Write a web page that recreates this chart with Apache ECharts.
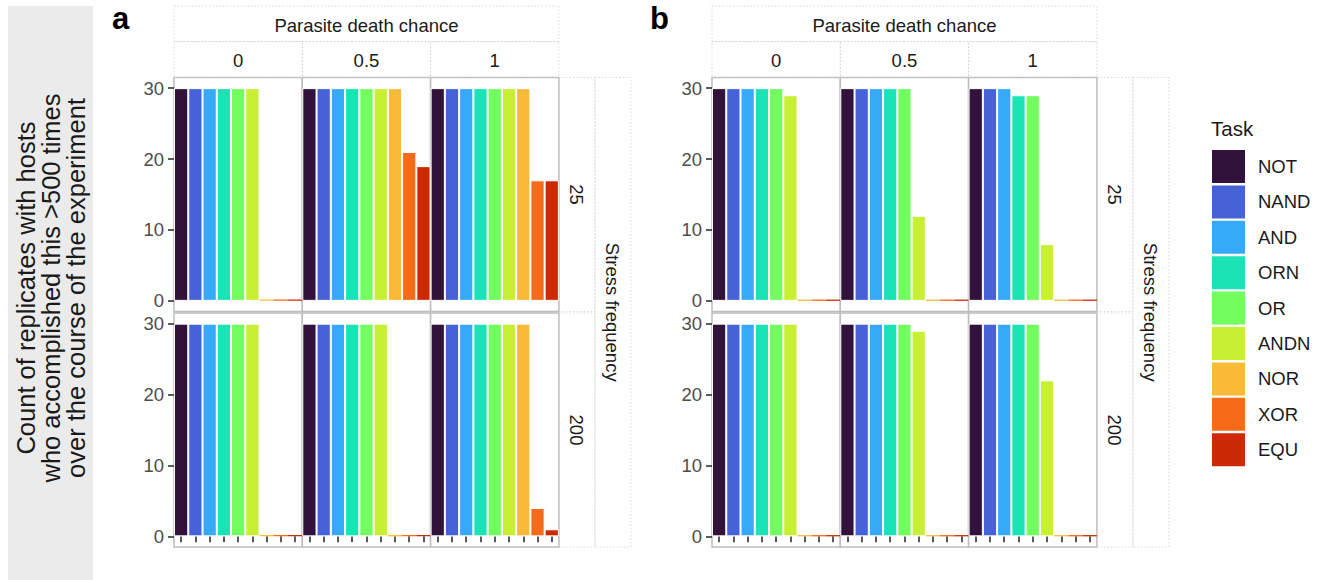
<!DOCTYPE html>
<html>
<head>
<meta charset="utf-8">
<script src="https://cdn.jsdelivr.net/npm/echarts@6/dist/echarts.min.js"></script>
<style>
  html, body { margin: 0; padding: 0; background: #fff; }
  #chart { width: 1320px; height: 580px; }
</style>
</head>
<body>
<div id="chart"></div>
<script>
// categories
const tasks = ['NOT', 'NAND', 'AND', 'ORN', 'OR', 'ANDN', 'NOR', 'XOR', 'EQU'];
const taskColors = ['#30123B', '#4662D7', '#36AAF9', '#1AE4B6', '#72FE5E', '#C7EF34', '#FABA39', '#F66B19', '#CB2A04'];
const deathChance = ['0', '0.5', '1'];
const stressFreq = ['25', '200'];
const yTicks = [0, 10, 20, 30];

// counts per death chance (0, 0.5, 1), one value per task
const countsA25 = [
  [30, 30, 30, 30, 30, 30, 0, 0, 0],
  [30, 30, 30, 30, 30, 30, 30, 21, 19],
  [30, 30, 30, 30, 30, 30, 30, 17, 17]
];
const countsA200 = [
  [30, 30, 30, 30, 30, 30, 0, 0, 0],
  [30, 30, 30, 30, 30, 30, 0, 0, 0],
  [30, 30, 30, 30, 30, 30, 30, 4, 1]
];
const countsB25 = [
  [30, 30, 30, 30, 30, 29, 0, 0, 0],
  [30, 30, 30, 30, 30, 12, 0, 0, 0],
  [30, 30, 30, 29, 29, 8, 0, 0, 0]
];
const countsB200 = [
  [30, 30, 30, 30, 30, 30, 0, 0, 0],
  [30, 30, 30, 30, 30, 29, 0, 0, 0],
  [30, 30, 30, 30, 30, 22, 0, 0, 0]
];

const facets = [
  { tag: 'a', left: 174, rows: [countsA25, countsA200] },
  { tag: 'b', left: 712, rows: [countsB25, countsB200] }
];

// layout
const colW = 128.3;
const rowTops = [77.5, 313];
const rowH = 234;
const stripW = 36;
const FONT = '"Liberation Sans", Arial, sans-serif';
const stripBorder = { stroke: '#cfcfcf', lineWidth: 0.8, lineDash: [1.5, 2], fill: null };

const grid = [], xAxis = [], yAxis = [], series = [], graphic = [];

// left gray axis title strip
graphic.push({ type: 'rect', shape: { x: 8, y: 6, width: 85, height: 574 }, style: { fill: '#ebebeb' }, z: 0 });
graphic.push({
  type: 'text', x: 50.5, y: 288, rotation: Math.PI / 2,
  style: {
    text: 'Count of replicates with hosts\nwho accomplished this >500 times\nover the course of the experiment',
    font: '25.5px ' + FONT, fill: '#1a1a1a', align: 'center', verticalAlign: 'middle', lineHeight: 25
  }
});

facets.forEach((f) => {
  const L = f.left;
  // panel tag
  graphic.push({ type: 'text', x: L - 62, y: 18, style: { text: f.tag, font: 'bold 31px ' + FONT, fill: '#000', align: 'left', verticalAlign: 'middle' } });
  // top strips
  graphic.push({ type: 'rect', shape: { x: L, y: 6, width: 3 * colW, height: 35.5 }, style: stripBorder });
  graphic.push({ type: 'text', x: L + 1.5 * colW, y: 25.5, style: { text: 'Parasite death chance', font: '18.5px ' + FONT, fill: '#1a1a1a', align: 'center', verticalAlign: 'middle' } });
  deathChance.forEach((d, ci) => {
    graphic.push({ type: 'rect', shape: { x: L + ci * colW, y: 41.5, width: colW, height: 36 }, style: stripBorder });
    graphic.push({ type: 'text', x: L + (ci + 0.5) * colW, y: 60, style: { text: d, font: '18.5px ' + FONT, fill: '#1a1a1a', align: 'center', verticalAlign: 'middle' } });
  });
  // right strips
  const R = L + 3 * colW;
  stressFreq.forEach((s, ri) => {
    graphic.push({ type: 'rect', shape: { x: R, y: rowTops[ri], width: stripW, height: rowH }, style: stripBorder });
    graphic.push({ type: 'text', x: R + stripW / 2, y: rowTops[ri] + rowH / 2, rotation: -Math.PI / 2, style: { text: s, font: '18.5px ' + FONT, fill: '#1a1a1a', align: 'center', verticalAlign: 'middle' } });
  });
  const outerH = rowTops[1] + rowH - rowTops[0];
  graphic.push({ type: 'rect', shape: { x: R + stripW, y: rowTops[0], width: stripW, height: outerH }, style: stripBorder });
  graphic.push({ type: 'text', x: R + stripW * 1.5, y: rowTops[0] + outerH / 2, rotation: -Math.PI / 2, style: { text: 'Stress frequency', font: '18.5px ' + FONT, fill: '#1a1a1a', align: 'center', verticalAlign: 'middle' } });

  // panels
  f.rows.forEach((rowData, ri) => {
    rowData.forEach((vals, ci) => {
      const k = grid.length;
      grid.push({
        left: L + ci * colW, top: rowTops[ri], width: colW, height: rowH,
        show: true, backgroundColor: '#fff', borderColor: '#bdbdbd', borderWidth: 1.5,
        containLabel: false, outerBoundsMode: 'none'
      });
      xAxis.push({
        type: 'category', gridIndex: k, data: tasks,
        axisLine: { show: false },
        axisLabel: { show: false },
        axisTick: { show: ri === 1, interval: 0, alignWithLabel: true, length: 6, lineStyle: { color: '#333', width: 1.6 } },
        splitLine: { show: false }
      });
      yAxis.push({
        type: 'value', gridIndex: k, min: -1.5, max: 31.5,
        splitLine: { show: false },
        axisLine: { show: false },
        axisTick: { show: ci === 0, customValues: yTicks, length: 6, lineStyle: { color: '#333', width: 1.6 } },
        axisLabel: { show: ci === 0, customValues: yTicks, fontSize: 18.5, color: '#4d4d4d', margin: 10, fontFamily: FONT }
      });
      series.push({
        type: 'bar', xAxisIndex: k, yAxisIndex: k,
        barCategoryGap: '0%', barMinHeight: 1.3, silent: true,
        itemStyle: { borderColor: '#fff', borderWidth: 1 },
        data: vals.map((v, i) => ({
          value: v,
          itemStyle: { color: taskColors[i], borderWidth: v === 0 ? 0 : 1 }
        }))
      });
    });
  });
});

// dummy series that only feed the legend
tasks.forEach((t, i) => {
  series.push({ name: t, type: 'line', xAxisIndex: 0, yAxisIndex: 0, data: [], itemStyle: { color: taskColors[i] }, lineStyle: { color: taskColors[i] } });
});

// legend title
graphic.push({ type: 'text', x: 1211, y: 128, style: { text: 'Task', font: '20.5px ' + FONT, fill: '#1a1a1a', align: 'left', verticalAlign: 'middle' } });

const chart = echarts.init(document.getElementById('chart'), null, { renderer: 'svg' });
chart.setOption({
  animation: false,
  backgroundColor: '#fff',
  textStyle: { fontFamily: FONT },
  grid, xAxis, yAxis, series, graphic,
  legend: {
    orient: 'vertical', left: 1212, top: 150, padding: 0,
    icon: 'rect', itemWidth: 33, itemHeight: 33, itemGap: 2.4,
    selectedMode: false,
    data: tasks,
    textStyle: { fontSize: 18.5, color: '#1a1a1a', padding: [0, 0, 0, 8] }
  }
});
</script>
</body>
</html>
